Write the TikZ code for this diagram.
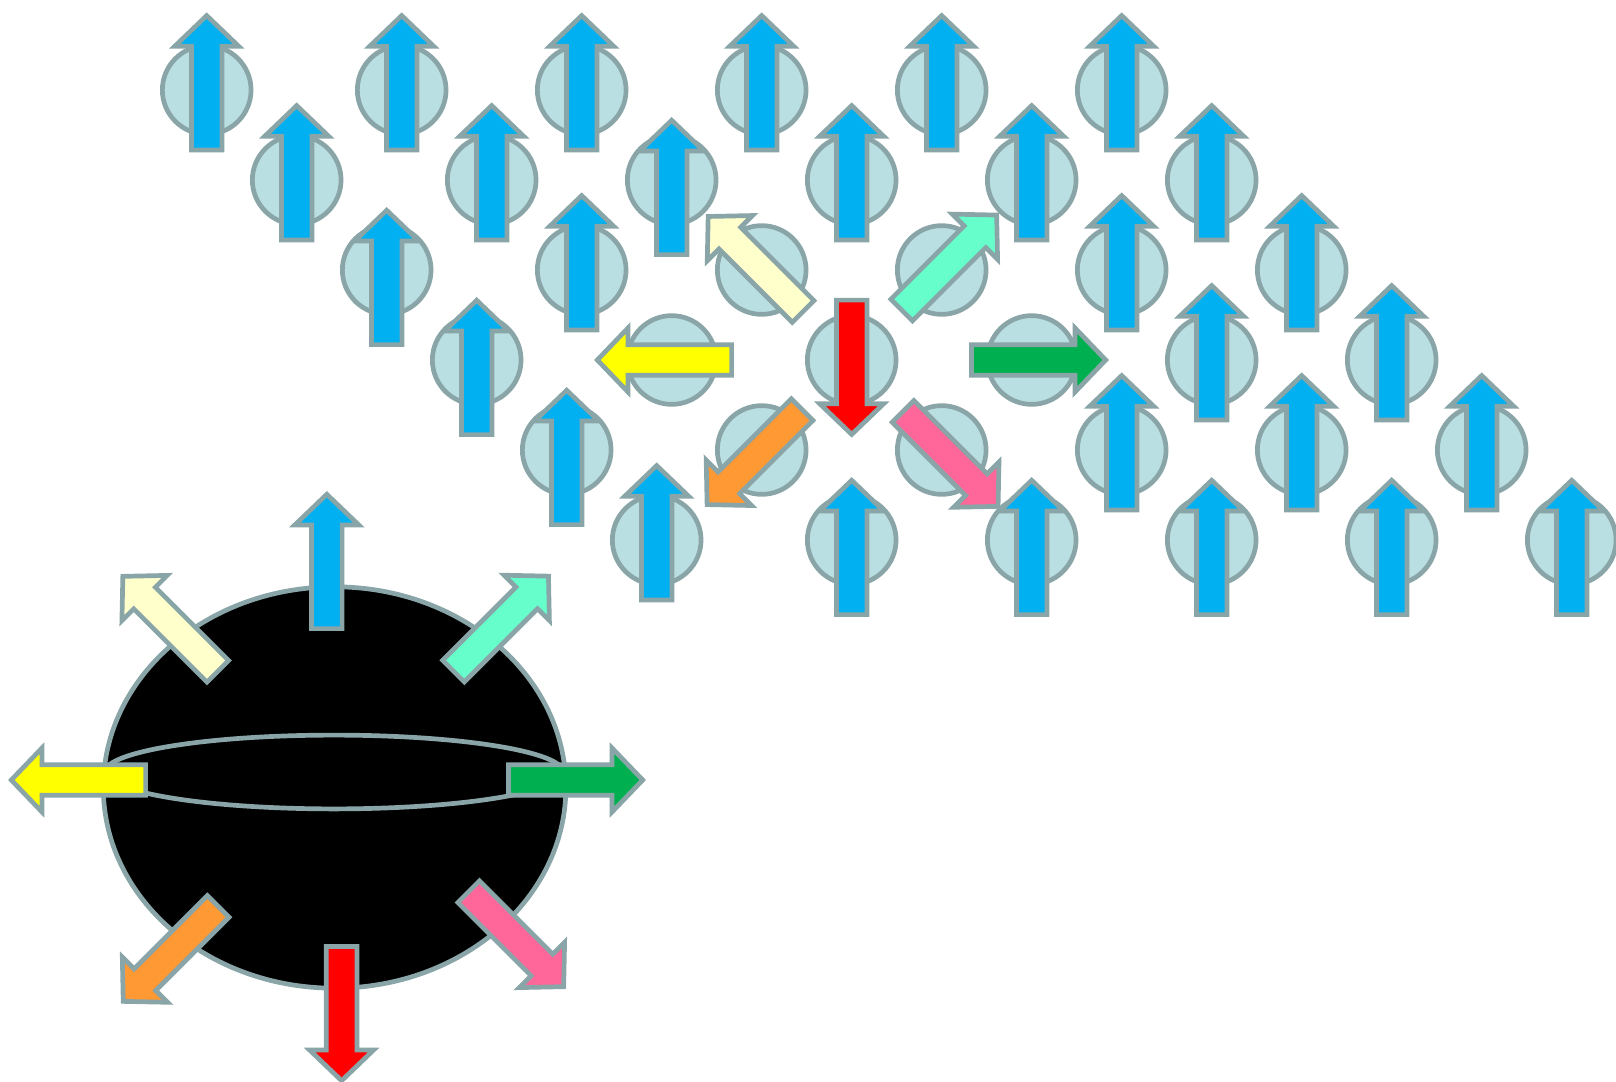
\documentclass[tikz,border=0pt]{standalone}

\definecolor{rim}{RGB}{137,165,167}
\definecolor{sitefill}{RGB}{185,223,227}
\definecolor{spinblue}{RGB}{0,176,240}
\definecolor{spinyellow}{RGB}{255,255,0}
\definecolor{spincream}{RGB}{255,255,204}
\definecolor{spinmint}{RGB}{102,255,204}
\definecolor{spingreen}{RGB}{0,176,80}
\definecolor{spinred}{RGB}{255,0,0}
\definecolor{spinorange}{RGB}{255,153,51}
\definecolor{spinpink}{RGB}{255,102,153}

\tikzset{
  outline/.style={draw=rim, line width=2.35pt, line join=miter},
  sitecircle/.style={outline, fill=sitefill},
}

% block arrow anchored at (#1,#2), pointing at angle #3, filled with #4;
% #5 is the position of the tail along the arrow axis, measured from the anchor
\newcommand\blockarrow[5]{%
  \draw[outline, fill=#4, shift={(#1,#2)}, rotate=#3]
    ({#5+2.4},-15.3) -- ({#5+106},-15.3) -- ({#5+106},-32) -- ({#5+136.7},0)
    -- ({#5+106},32) -- ({#5+106},15.3) -- ({#5+2.4},15.3) -- cycle;}

\begin{document}
\begin{tikzpicture}[x=0.5pt, y=-0.5pt]
\useasboundingbox (0,0) rectangle (1616,1081);

% ---------- lattice sites ----------
\foreach \r in {0,...,5}{
  \pgfmathsetmacro\yy{90+90*\r}
  \pgfmathsetmacro\xf{206.7+90*\r}
  \draw[sitecircle] (\xf,\yy) circle [radius=44.35];
  \foreach \k in {0,...,4}{
    \pgfmathsetmacro\xx{401.7+90*(2*\k+\r)}
    \draw[sitecircle] (\xx,\yy) circle [radius=44.35];
  }
}

% ---------- upward spins ----------
% spins sitting high on their site
\foreach \xx/\yy in {206.7/90, 401.7/90, 581.7/90, 761.7/90, 941.7/90, 1121.7/90,
                     296.7/180, 491.7/180, 851.7/180, 1031.7/180, 1211.7/180,
                     581.7/270, 1121.7/270, 1301.7/270,
                     1211.7/360, 1391.7/360,
                     1121.7/450, 1301.7/450, 1481.7/450,
                     656.7/540}
  {\blockarrow{\xx}{\yy}{90}{spinblue}{-62.3}}
% spins sitting low on their site
\foreach \xx/\yy in {671.7/180, 386.7/270, 476.7/360, 566.7/450,
                     851.7/540, 1031.7/540, 1211.7/540, 1391.7/540, 1571.7/540}
  {\blockarrow{\xx}{\yy}{90}{spinblue}{-77}}

% ---------- tilted spins around the defect ----------
\blockarrow{761.7}{270}{135}{spincream}{-61}
\blockarrow{941.7}{270}{45}{spinmint}{-59}
\blockarrow{671.7}{360}{180}{spinyellow}{-62.3}
\blockarrow{851.7}{360}{-90}{spinred}{-62.3}
\blockarrow{1031.7}{360}{0}{spingreen}{-62.7}
\blockarrow{761.7}{450}{-135}{spinorange}{-59.5}
\blockarrow{941.7}{450}{-45}{spinpink}{-57}

% ---------- sphere with outward spins ----------
\draw[outline, fill=black] (334.6,787.5) ellipse [x radius=231.3, y radius=200.7];
\draw[outline] (334,772) ellipse [x radius=229, y radius=36.9];

\blockarrow{326.8}{631}{90}{spinblue}{0}
\blockarrow{341.6}{944}{-90}{spinred}{0}
\blockarrow{148}{780}{180}{spinyellow}{0}
\blockarrow{506}{780}{0}{spingreen}{0}
\blockarrow{219.5}{673}{135}{spincream}{0}
\blockarrow{451.8}{672.8}{45}{spinmint}{0}
\blockarrow{219.9}{904.7}{-135}{spinorange}{0}
\blockarrow{467}{890}{-45}{spinpink}{0}
\end{tikzpicture}
\end{document}
